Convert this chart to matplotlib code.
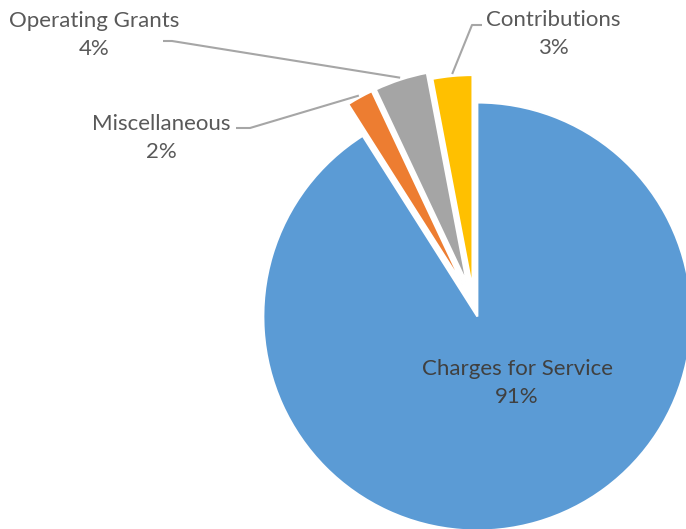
import numpy as np
import matplotlib.pyplot as plt

# data
categories = ["Charges for Service", "Miscellaneous", "Operating Grants", "Contributions"]
shares = [91, 2, 4, 3]
pct_labels = ["91%", "2%", "4%", "3%"]
colors = ["#5B9BD5", "#ED7D31", "#A5A5A5", "#FFC000"]

W, H = 686, 529
fig = plt.figure(figsize=(W / 100, H / 100), dpi=100)
ax = fig.add_axes([0, 0, 1, 1])

R = 214
cx, cy = 474, H - 305
explode = [12, 23, 23, 16]

wedges, _ = ax.pie(shares, colors=colors, startangle=90, counterclock=False,
                   radius=R, center=(cx, cy), explode=explode,
                   wedgeprops=dict(edgecolor="white", linewidth=1.5))

ax.set_xlim(0, W)
ax.set_ylim(0, H)
ax.set_aspect("equal")
ax.axis("off")

font = ["Lato", "DejaVu Sans"]
fs = 16
txt_out = "#595959"

# label for the big slice, inside
ax.text(517, H - 383, categories[0] + "\n" + pct_labels[0], ha="center", va="center",
        fontsize=fs, color="#404040", family=font, linespacing=1.55)

# outside labels with leader lines: (label centre, elbow start, elbow end)
outside = {
    1: ((161, 138), (236, 128), (250, 128)),
    2: ((94, 35), (163, 41), (172, 41)),
    3: ((553, 34), (482, 25), (472, 25)),
}
for i, (lab, p0, p1) in outside.items():
    ax.text(lab[0], H - lab[1], categories[i] + "\n" + pct_labels[i], ha="center",
            va="center", fontsize=fs, color=txt_out, family=font, linespacing=1.55)
    w = wedges[i]
    th = np.deg2rad((w.theta1 + w.theta2) / 2)
    ex = w.center[0] + (w.r + 2) * np.cos(th)
    ey = w.center[1] + (w.r + 2) * np.sin(th)
    ax.plot([p0[0], p1[0], ex], [H - p0[1], H - p1[1], ey], color="#A6A6A6", lw=1.5,
            solid_capstyle="butt")

fig.savefig("out.png", dpi=100)
